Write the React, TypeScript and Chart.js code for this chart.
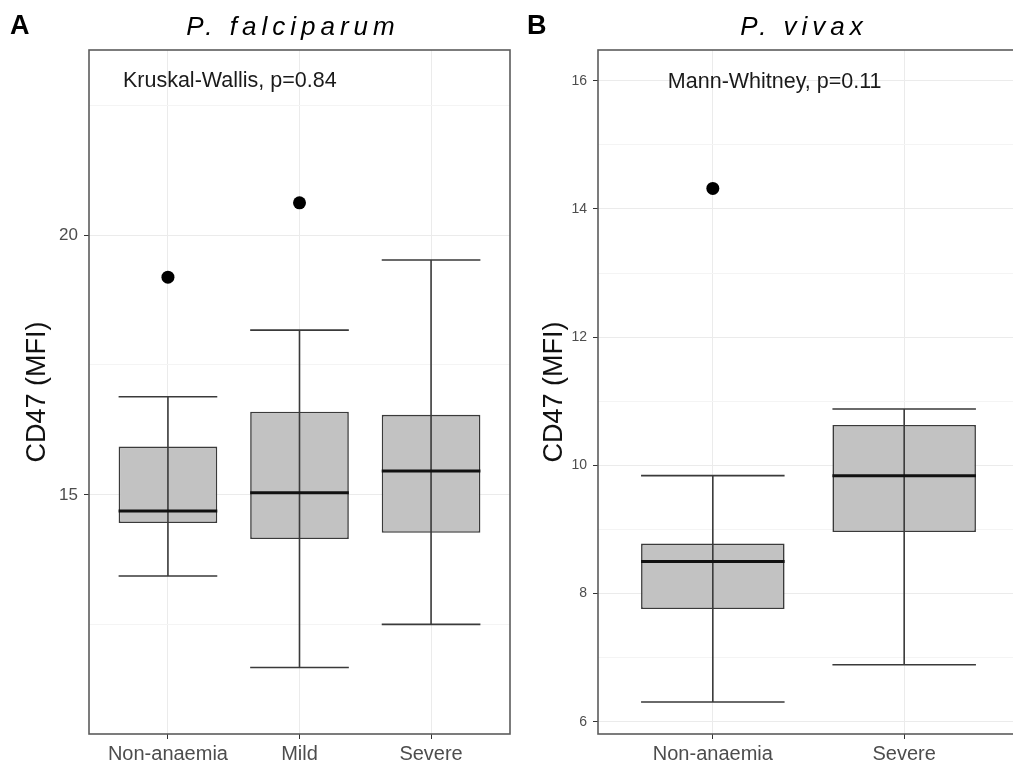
import React, { useEffect, useRef } from "react";
import { Chart, registerables } from "chart.js";

Chart.register(...registerables);

const FONT = '"Liberation Sans", Arial, Helvetica, sans-serif';

// ---- Panel A: P. falciparum ----
const fpCategories = ["Non-anaemia", "Mild", "Severe"];
const fpWhiskerLow = [13.44, 11.68, 12.51];
const fpQ1 = [14.46, 14.15, 14.27];
const fpMedian = [14.69, 15.04, 15.46];
const fpQ3 = [15.93, 16.6, 16.54];
const fpWhiskerHigh = [16.89, 18.17, 19.52];
const fpOutlierGroup = [1, 2];
const fpOutlierValue = [19.19, 20.62];
const fpYTicks = [12.5, 15, 17.5, 20, 22.5];
const fpYMajorStep = 5;
const fpYRange = [10.4, 23.56];
const fpStatText = "Kruskal-Wallis, p=0.84";
const fpStatPos = [0.658, 22.96];

// ---- Panel B: P. vivax ----
const pvCategories = ["Non-anaemia", "Severe"];
const pvWhiskerLow = [6.31, 6.89];
const pvQ1 = [7.76, 8.96];
const pvMedian = [8.5, 9.84];
const pvQ3 = [8.78, 10.63];
const pvWhiskerHigh = [9.84, 10.88];
const pvOutlierGroup = [1];
const pvOutlierValue = [14.32];
const pvYTicks = [6, 7, 8, 9, 10, 11, 12, 13, 14, 15, 16];
const pvYMajorStep = 2;
const pvYRange = [5.81, 16.48];
const pvStatText = "Mann-Whitney, p=0.11";
const pvStatPos = [0.765, 15.98];

type PanelProps = {
  categories: string[];
  low: number[];
  q1: number[];
  median: number[];
  q3: number[];
  high: number[];
  outGroup: number[];
  outValue: number[];
  yTicks: number[];
  majorStep: number;
  yRange: number[];
  statText: string;
  statPos: number[];
  canvasLeft: number;
  canvasWidth: number;
  yAxisWidth: number;
  padRight: number;
  titlePad: number;
  yTickSize: number;
};

function BoxPanel(p: PanelProps) {
  const ref = useRef<HTMLCanvasElement | null>(null);
  useEffect(() => {
    if (!ref.current) return;
    const isMajor = (v: number) => Math.abs(v / p.majorStep - Math.round(v / p.majorStep)) < 1e-6;
    const boxPlugin = {
      id: "boxExtras",
      afterDatasetsDraw(chart: any) {
        const { ctx, scales } = chart;
        const ys = scales.y;
        const xs = scales.x;
        const meta = chart.getDatasetMeta(0);
        ctx.save();
        meta.data.forEach((bar: any, i: number) => {
          const cx = bar.x;
          const half = bar.width / 2;
          const yl = ys.getPixelForValue(p.low[i]);
          const yh = ys.getPixelForValue(p.high[i]);
          const ym = ys.getPixelForValue(p.median[i]);
          ctx.strokeStyle = "#3a3a3a";
          ctx.lineWidth = 1.6;
          ctx.beginPath();
          ctx.moveTo(cx, yl);
          ctx.lineTo(cx, yh);
          ctx.moveTo(cx - half, yl);
          ctx.lineTo(cx + half, yl);
          ctx.moveTo(cx - half, yh);
          ctx.lineTo(cx + half, yh);
          ctx.stroke();
          ctx.strokeStyle = "#111";
          ctx.lineWidth = 3;
          ctx.beginPath();
          ctx.moveTo(cx - half, ym);
          ctx.lineTo(cx + half, ym);
          ctx.stroke();
        });
        ctx.fillStyle = "#1a1a1a";
        ctx.font = "21.5px " + FONT;
        ctx.textAlign = "left";
        ctx.textBaseline = "middle";
        ctx.fillText(p.statText, xs.getPixelForValue(p.statPos[0]), ys.getPixelForValue(p.statPos[1]));
        ctx.restore();
      },
      afterDraw(chart: any) {
        const { ctx, chartArea } = chart;
        ctx.save();
        ctx.strokeStyle = "#5c5c5c";
        ctx.lineWidth = 1.6;
        ctx.strokeRect(chartArea.left, chartArea.top, chartArea.right - chartArea.left, chartArea.bottom - chartArea.top);
        ctx.restore();
      },
    };

    const chart = new Chart(ref.current, {
      type: "bar",
      data: {
        datasets: [
          {
            type: "bar",
            data: p.categories.map((_, i) => ({ x: i + 1, y: [p.q1[i], p.q3[i]] })) as any,
            backgroundColor: "#c2c2c2",
            borderColor: "#3a3a3a",
            borderWidth: 1.6,
            borderSkipped: false,
            categoryPercentage: 1,
            barPercentage: 0.75,
          },
          {
            type: "scatter",
            data: p.outGroup.map((g, i) => ({ x: g, y: p.outValue[i] })),
            backgroundColor: "#000",
            borderWidth: 0,
            pointRadius: 6.5,
          } as any,
        ],
      },
      options: {
        responsive: false,
        animation: false,
        devicePixelRatio: 1,
        layout: { autoPadding: false, padding: { top: 50, right: p.padRight, bottom: 0, left: 0 } },
        plugins: { legend: { display: false }, tooltip: { enabled: false }, title: { display: false } },
        scales: {
          x: {
            type: "linear",
            min: 0.4,
            max: p.categories.length + 0.6,
            offset: false,
            afterBuildTicks: (s: any) => {
              s.ticks = p.categories.map((_, i) => ({ value: i + 1 }));
            },
            afterFit: (s: any) => {
              s.height = 31;
              s.paddingLeft = 0;
              s.paddingRight = 0;
            },
            ticks: {
              autoSkip: false,
              maxRotation: 0,
              padding: 3,
              color: "#4d4d4d",
              font: { size: 20, family: FONT },
              callback: (v: any) => p.categories[Math.round(Number(v)) - 1] ?? "",
            },
            grid: { offset: false, color: "#ebebeb", lineWidth: 1, tickLength: 5, tickColor: "#333" },
            border: { display: false },
          },
          y: {
            type: "linear",
            min: p.yRange[0],
            max: p.yRange[1],
            afterBuildTicks: (s: any) => {
              s.ticks = p.yTicks.map((v) => ({ value: v }));
            },
            afterFit: (s: any) => {
              s.width = p.yAxisWidth;
            },
            ticks: {
              autoSkip: false,
              padding: 6,
              color: "#4d4d4d",
              font: { size: p.yTickSize, family: FONT },
              callback: (v: any) => (isMajor(Number(v)) ? String(v) : ""),
            },
            grid: {
              color: (c: any) => (c.tick && isMajor(c.tick.value) ? "#ebebeb" : "#f4f4f4"),
              tickColor: (c: any) => (c.tick && isMajor(c.tick.value) ? "#333" : "rgba(0,0,0,0)"),
              tickLength: 5,
              lineWidth: 1,
            },
            border: { display: false },
            title: {
              display: true,
              text: "CD47 (MFI)",
              color: "#111",
              font: { size: 27, family: FONT },
              padding: { top: p.titlePad, bottom: 0 },
            },
          },
        },
      },
      plugins: [boxPlugin],
    } as any);
    return () => chart.destroy();
  }, []);
  return (
    <canvas
      ref={ref}
      width={p.canvasWidth}
      height={765}
      style={{ position: "absolute", left: p.canvasLeft, top: 0, width: p.canvasWidth, height: 765 }}
    />
  );
}

const letterStyle: React.CSSProperties = {
  position: "absolute",
  top: 12,
  fontFamily: FONT,
  fontWeight: "bold",
  fontSize: 27,
  lineHeight: "27px",
  color: "#000",
};

const titleStyle: React.CSSProperties = {
  position: "absolute",
  top: 13,
  width: 400,
  textAlign: "center",
  fontFamily: FONT,
  fontStyle: "italic",
  fontSize: 26,
  lineHeight: "26px",
  letterSpacing: 5,
  paddingLeft: 5,
  color: "#000",
};

export default function App() {
  return (
    <div
      style={{
        position: "fixed",
        left: 0,
        top: 0,
        width: 1013,
        height: 765,
        overflow: "hidden",
        background: "#fff",
      }}
    >
      <BoxPanel
        categories={fpCategories}
        low={fpWhiskerLow}
        q1={fpQ1}
        median={fpMedian}
        q3={fpQ3}
        high={fpWhiskerHigh}
        outGroup={fpOutlierGroup}
        outValue={fpOutlierValue}
        yTicks={fpYTicks}
        majorStep={fpYMajorStep}
        yRange={fpYRange}
        statText={fpStatText}
        statPos={fpStatPos}
        canvasLeft={0}
        canvasWidth={512}
        yAxisWidth={89}
        padRight={2}
        titlePad={21}
        yTickSize={17}
      />
      <BoxPanel
        categories={pvCategories}
        low={pvWhiskerLow}
        q1={pvQ1}
        median={pvMedian}
        q3={pvQ3}
        high={pvWhiskerHigh}
        outGroup={pvOutlierGroup}
        outValue={pvOutlierValue}
        yTicks={pvYTicks}
        majorStep={pvYMajorStep}
        yRange={pvYRange}
        statText={pvStatText}
        statPos={pvStatPos}
        canvasLeft={512}
        canvasWidth={518}
        yAxisWidth={86}
        padRight={11}
        titlePad={26}
        yTickSize={14}
      />
      <div style={{ ...letterStyle, left: 10 }}>A</div>
      <div style={{ ...letterStyle, left: 527 }}>B</div>
      <div style={{ ...titleStyle, left: 88 }}>P. falciparum</div>
      <div style={{ ...titleStyle, left: 599 }}>P. vivax</div>
    </div>
  );
}
